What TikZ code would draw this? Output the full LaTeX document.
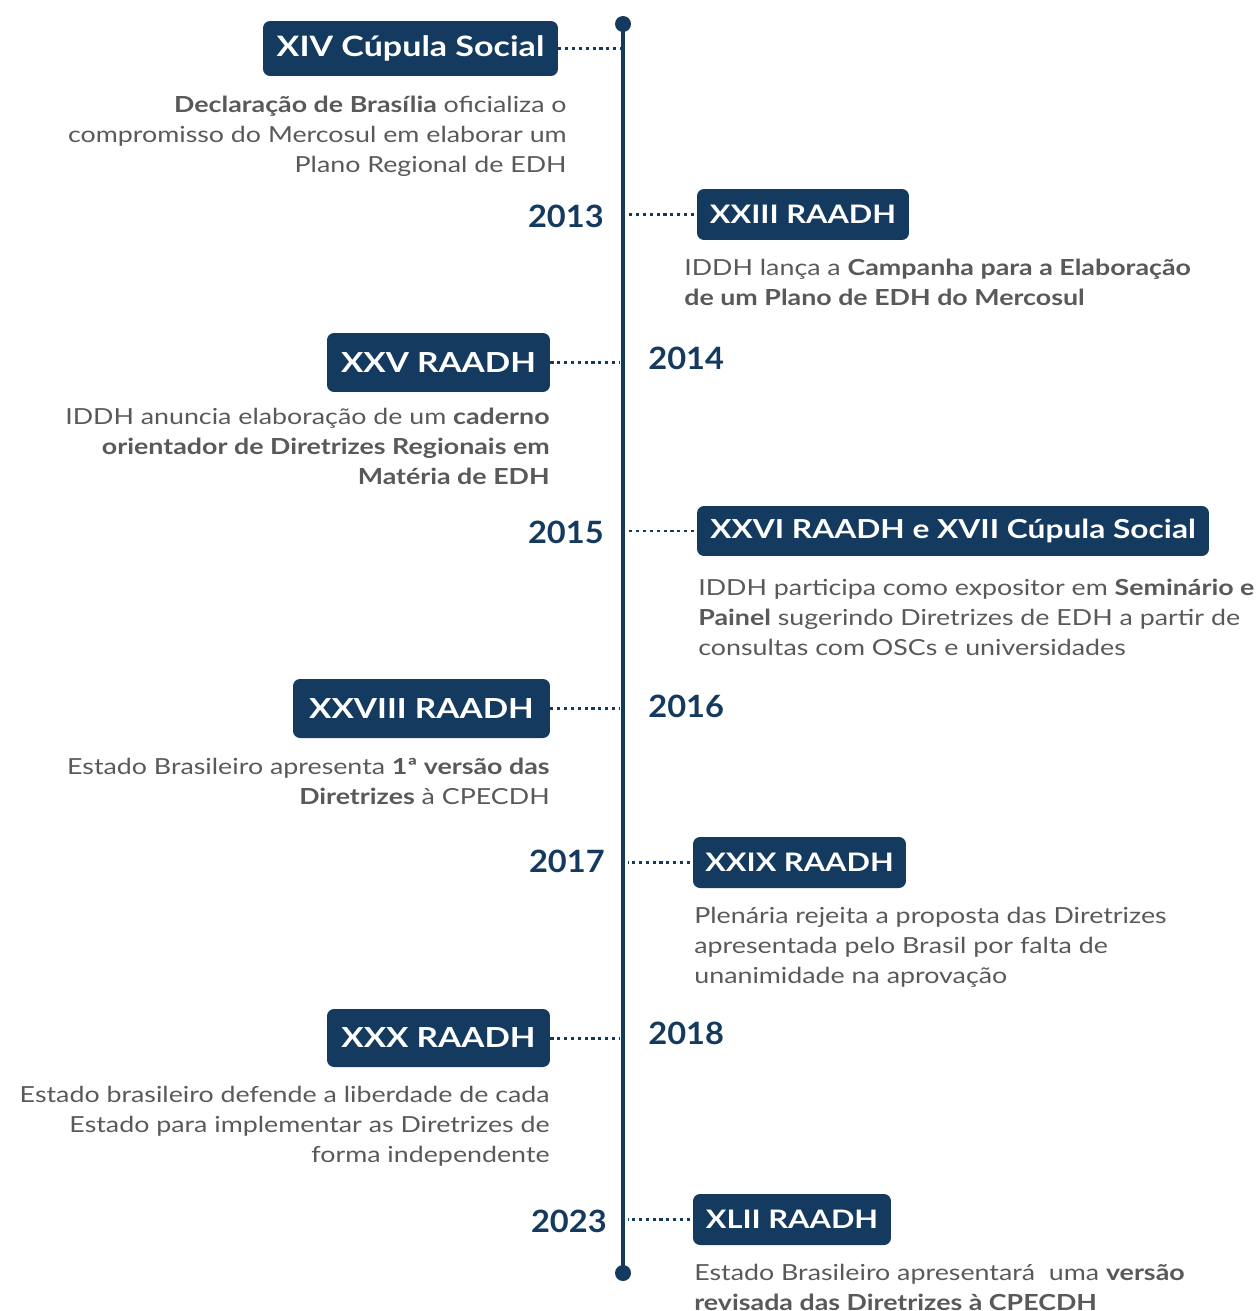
\documentclass[tikz,border=0pt]{standalone}
\usepackage{fontspec}
\setmainfont{Lato}[FakeStretch = 1.21]
\newfontfamily\yearfont{Lato}[FakeStretch = 1.06]
\definecolor{navy}{HTML}{143A5F}
\definecolor{txtgray}{HTML}{58595B}

\begin{document}
\begin{tikzpicture}[%
        x = 0.02cm,
        y = -0.02cm,
        event/.style = {fill = navy, text = white, rounded corners = 4pt,
            inner sep = 0pt, font = \bfseries},
        year/.style = {text = navy, inner sep = 0pt,
            font = \yearfont\fontsize{17.5}{20}\selectfont\bfseries},
        info/.style = {text = txtgray, inner sep = 0pt,
            font = \fontsize{12.6}{17}\selectfont},
        link/.style = {navy, line width = 1.7pt,
            dash pattern = on 1.8pt off 2.1pt}
    ]
        \useasboundingbox (0, 0) rectangle (1260, 1311);

        % Ends of the time axis.
        \coordinate (Top) at (623, 24);
        \coordinate (Bottom) at (623, 1273);

        % The axis itself, with a dot at each end.
        \draw[navy, line width = 2.3pt] (Top) to (Bottom);
        \fill[navy] (Top) circle (0.16cm);
        \fill[navy] (Bottom) circle (0.16cm);

        % Event boxes.
        \node[event, minimum width = 5.9cm, minimum height = 1.1cm,
            font = \fontsize{16}{18}\selectfont\bfseries]
            (Cupula_XIV) at (410.5, 48.5) {XIV Cúpula Social};
        \node[event, minimum width = 4.24cm, minimum height = 1.02cm,
            font = \fontsize{14.5}{17}\selectfont\bfseries]
            (RAADH_XXIII) at (803, 214.5) {XXIII RAADH};
        \node[event, minimum width = 4.46cm, minimum height = 1.18cm,
            font = \fontsize{15.7}{19}\selectfont\bfseries]
            (RAADH_XXV) at (438.5, 362.5) {XXV RAADH};
        \node[event, minimum width = 10.24cm, minimum height = 1.0cm,
            font = \fontsize{14.9}{17}\selectfont\bfseries]
            (RAADH_XXVI) at (953, 531) {XXVI RAADH e XVII Cúpula Social};
        \node[event, minimum width = 5.14cm, minimum height = 1.18cm,
            font = \fontsize{15.7}{19}\selectfont\bfseries]
            (RAADH_XXVIII) at (421.5, 708.5) {XXVIII RAADH};
        \node[event, minimum width = 4.26cm, minimum height = 1.02cm,
            font = \fontsize{14.5}{17}\selectfont\bfseries]
            (RAADH_XXIX) at (799.5, 862.5) {XXIX RAADH};
        \node[event, minimum width = 4.46cm, minimum height = 1.16cm,
            font = \fontsize{15.7}{19}\selectfont\bfseries]
            (RAADH_XXX) at (438.5, 1038) {XXX RAADH};
        \node[event, minimum width = 3.96cm, minimum height = 1.02cm,
            font = \fontsize{14.5}{17}\selectfont\bfseries]
            (RAADH_XLII) at (792, 1219.5) {XLII RAADH};

        % Dotted links from the boxes to the axis.
        \draw[link] (Cupula_XIV.east) to (Cupula_XIV.east -| Top);
        \draw[link] ([xshift = -1.5pt] RAADH_XXIII.west) to ([xshift = 3pt] RAADH_XXIII.west -| Top);
        \draw[link] (RAADH_XXV.east) to ([xshift = -2pt] RAADH_XXV.east -| Top);
        \draw[link] ([xshift = -1.5pt] RAADH_XXVI.west) to ([xshift = 3pt] RAADH_XXVI.west -| Top);
        \draw[link] (RAADH_XXVIII.east) to ([xshift = -2pt] RAADH_XXVIII.east -| Top);
        \draw[link] ([xshift = -1.5pt] RAADH_XXIX.west) to ([xshift = 3pt] RAADH_XXIX.west -| Top);
        \draw[link] (RAADH_XXX.east) to ([xshift = -2pt] RAADH_XXX.east -| Top);
        \draw[link] ([xshift = -1.5pt] RAADH_XLII.west) to ([xshift = 3pt] RAADH_XLII.west -| Top);

        % Years beside the axis.
        \node[year, anchor = east] (Year_2013) at (604, 216) {2013};
        \node[year, anchor = west] (Year_2014) at (648, 358) {2014};
        \node[year, anchor = east] (Year_2015) at (604, 532) {2015};
        \node[year, anchor = west] (Year_2016) at (648, 706) {2016};
        \node[year, anchor = east] (Year_2017) at (605, 861) {2017};
        \node[year, anchor = west] (Year_2018) at (648, 1033) {2018};
        \node[year, anchor = east] (Year_2023) at (607, 1221) {2023};

        % Descriptions under the boxes.
        \node[info, align = right, anchor = north east] (Info_XIV) at (567, 96)
            {\textbf{Declaração de Brasília} oficializa o\\
             compromisso do Mercosul em elaborar um\\
             Plano Regional de EDH};
        \node[info, align = left, anchor = north west] (Info_XXIII) at (684, 259)
            {IDDH lança a \textbf{Campanha para a Elaboração}\\
             \textbf{de um Plano de EDH do Mercosul}};
        \node[info, align = right, anchor = north east] (Info_XXV) at (550, 408)
            {IDDH anuncia elaboração de um \textbf{caderno}\\
             \textbf{orientador de Diretrizes Regionais em}\\
             \textbf{Matéria de EDH}};
        \node[info, align = left, anchor = north west] (Info_XXVI) at (698, 579)
            {IDDH participa como expositor em \textbf{Seminário e}\\
             \textbf{Painel} sugerindo Diretrizes de EDH a partir de\\
             consultas com OSCs e universidades};
        \node[info, align = right, anchor = north east] (Info_XXVIII) at (550, 758)
            {Estado Brasileiro apresenta \textbf{1ª versão das}\\
             \textbf{Diretrizes} à CPECDH};
        \node[info, align = left, anchor = north west] (Info_XXIX) at (694, 907)
            {Plenária rejeita a proposta das Diretrizes\\
             apresentada pelo Brasil por falta de\\
             unanimidade na aprovação};
        \node[info, align = right, anchor = north east] (Info_XXX) at (550, 1086)
            {Estado brasileiro defende a liberdade de cada\\
             Estado para implementar as Diretrizes de\\
             forma independente};
        \node[info, align = left, anchor = north west] (Info_XLII) at (694, 1264)
            {Estado Brasileiro apresentará \ uma \textbf{versão}\\
             \textbf{revisada das Diretrizes à CPECDH}};
    \end{tikzpicture}
\end{document}
